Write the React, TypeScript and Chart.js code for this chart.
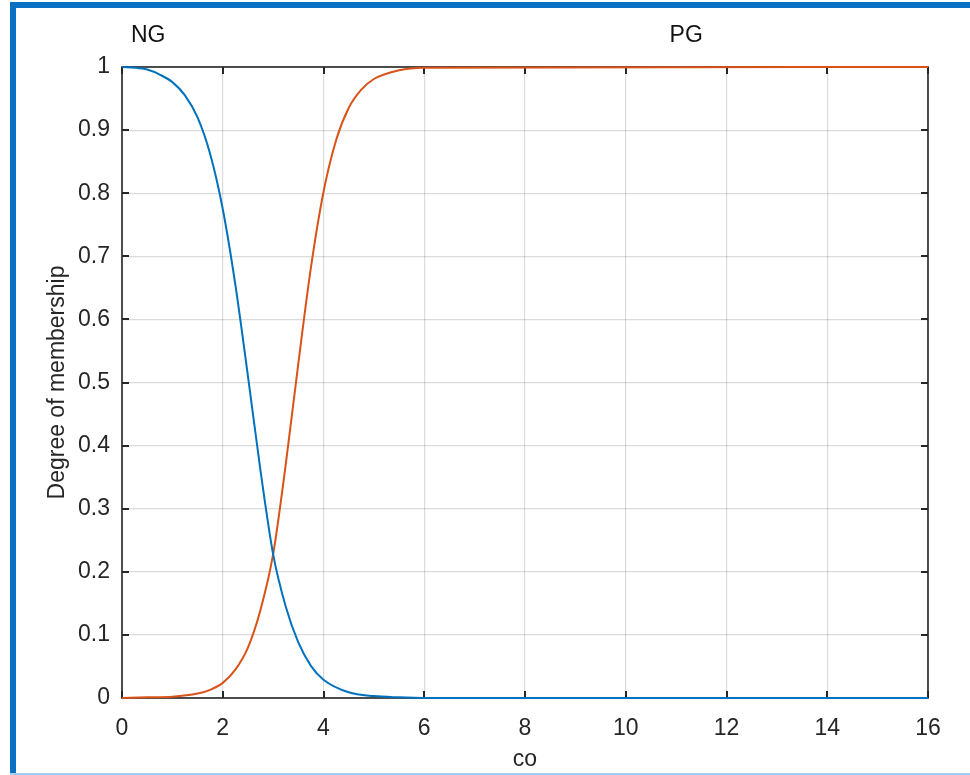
import React, { useEffect, useRef } from 'react';
import { Chart, registerables } from 'chart.js';
Chart.register(...registerables);

// NG membership (blue)
const ngX = [0, 0.25, 0.5, 0.75, 1, 1.25, 1.5, 1.75, 2, 2.25, 2.5, 2.75, 3, 3.25, 3.5, 3.75, 4, 4.5, 5, 5.5, 6, 16];
const ngY = [1, 0.999, 0.996, 0.988, 0.976, 0.955, 0.92, 0.862, 0.775, 0.655, 0.51, 0.36, 0.228, 0.145, 0.088, 0.051, 0.029, 0.009, 0.003, 0.001, 0, 0];
// PG membership (orange)
const pgX = [0, 0.5, 1, 1.5, 1.75, 2, 2.25, 2.5, 2.75, 3, 3.25, 3.5, 3.75, 4, 4.25, 4.5, 4.75, 5, 5.5, 6, 16];
const pgY = [0, 0.001, 0.002, 0.007, 0.013, 0.024, 0.045, 0.08, 0.14, 0.228, 0.37, 0.53, 0.682, 0.802, 0.884, 0.935, 0.964, 0.981, 0.995, 0.999, 1];

const xTicks = [0, 2, 4, 6, 8, 10, 12, 14, 16];
const yTicks = [0, 0.1, 0.2, 0.3, 0.4, 0.5, 0.6, 0.7, 0.8, 0.9, 1];
const yTickLabels = ['0', '0.1', '0.2', '0.3', '0.4', '0.5', '0.6', '0.7', '0.8', '0.9', '1'];
const xTickLabels = ['0', '2', '4', '6', '8', '10', '12', '14', '16'];

const mfNames = ['NG', 'PG'];
const mfLabelX = [0.52, 11.2];

const FONT = '"Liberation Sans", Arial, Helvetica, sans-serif';
const TEXT = '#262626';

const framePlugin = {
  id: 'frame',
  beforeDatasetsDraw(chart: any) {
    const { ctx, chartArea, scales } = chart;
    const { left, right, top, bottom } = chartArea;
    const x = scales.x;
    const y = scales.y;
    ctx.save();
    ctx.strokeStyle = TEXT;
    ctx.lineWidth = 1.6;
    ctx.strokeRect(left, top, right - left, bottom - top);
    ctx.lineWidth = 2;
    const len = 7;
    ctx.beginPath();
    x.ticks.forEach((t: any) => {
      const px = Math.round(x.getPixelForValue(t.value));
      ctx.moveTo(px, bottom);
      ctx.lineTo(px, bottom - len);
      ctx.moveTo(px, top);
      ctx.lineTo(px, top + len);
    });
    y.ticks.forEach((t: any) => {
      const py = Math.round(y.getPixelForValue(t.value));
      ctx.moveTo(left, py);
      ctx.lineTo(left + len, py);
      ctx.moveTo(right, py);
      ctx.lineTo(right - len, py);
    });
    ctx.stroke();
    ctx.restore();
  },
  afterDraw(chart: any) {
    const { ctx, chartArea, scales } = chart;
    ctx.save();
    ctx.fillStyle = '#111';
    ctx.font = `23px ${FONT}`;
    ctx.textAlign = 'center';
    ctx.textBaseline = 'middle';
    mfNames.forEach((n, i) => {
      ctx.fillText(n, scales.x.getPixelForValue(mfLabelX[i]), chartArea.top - 31);
    });
    ctx.restore();
  },
};

export default function App() {
  const ref = useRef<HTMLCanvasElement>(null);
  useEffect(() => {
    if (!ref.current) return;
    const chart = new Chart(ref.current, {
      type: 'line',
      data: {
        datasets: [
          {
            label: 'NG',
            data: ngX.map((v, i) => ({ x: v, y: ngY[i] })),
            borderColor: '#0072BD',
            borderWidth: 2,
            pointRadius: 0,
            cubicInterpolationMode: 'monotone',
            fill: false,
            clip: false as any,
          },
          {
            label: 'PG',
            data: pgX.map((v, i) => ({ x: v, y: pgY[i] })),
            borderColor: '#D95319',
            borderWidth: 2,
            pointRadius: 0,
            cubicInterpolationMode: 'monotone',
            fill: false,
            clip: false as any,
          },
        ],
      },
      options: {
        animation: false,
        responsive: false,
        layout: { padding: { top: 67, right: 42, left: 0, bottom: 0 } },
        plugins: { legend: { display: false }, tooltip: { enabled: false } },
        scales: {
          x: {
            type: 'linear',
            min: 0,
            max: 16,
            afterBuildTicks: (s: any) => {
              s.ticks = xTicks.map((v) => ({ value: v }));
            },
            afterFit: (s: any) => {
              s.height = 77;
            },
            ticks: {
              autoSkip: false,
              maxRotation: 0,
              padding: 17,
              color: TEXT,
              font: { size: 23, family: FONT },
              callback: (_v: any, i: number) => xTickLabels[i],
            },
            grid: { color: 'rgba(0,0,0,0.14)', lineWidth: 1.2, drawTicks: false },
            border: { display: false },
            title: {
              display: true,
              text: 'co',
              color: TEXT,
              font: { size: 23, family: FONT },
              padding: { top: 0, bottom: 2 },
            },
          },
          y: {
            type: 'linear',
            min: 0,
            max: 1,
            afterBuildTicks: (s: any) => {
              s.ticks = yTicks.map((v) => ({ value: v }));
            },
            afterFit: (s: any) => {
              s.width = 122;
            },
            ticks: {
              autoSkip: false,
              padding: 12,
              color: TEXT,
              font: { size: 23, family: FONT },
              callback: (_v: any, i: number) => yTickLabels[i],
            },
            grid: { color: 'rgba(0,0,0,0.14)', lineWidth: 1.2, drawTicks: false },
            border: { display: false },
            title: {
              display: true,
              text: 'Degree of membership',
              color: TEXT,
              font: { size: 23, family: FONT },
              padding: { top: 44, bottom: 0 },
            },
          },
        },
      } as any,
      plugins: [framePlugin],
    });
    return () => chart.destroy();
  }, []);

  return (
    <div style={{ position: 'absolute', left: 0, top: 0, width: 970, height: 775, background: '#fff', overflow: 'hidden' }}>
      <canvas ref={ref} width={970} height={775} style={{ position: 'absolute', left: 0, top: 0, width: 970, height: 775 }} />
      <div style={{ position: 'absolute', left: 10, top: 2, width: 960, height: 6, background: '#0a70c2' }} />
      <div style={{ position: 'absolute', left: 10, top: 2, width: 6, height: 771, background: '#0a70c2' }} />
      <div style={{ position: 'absolute', left: 10, top: 773, width: 960, height: 2, background: '#a6cdee' }} />
    </div>
  );
}
